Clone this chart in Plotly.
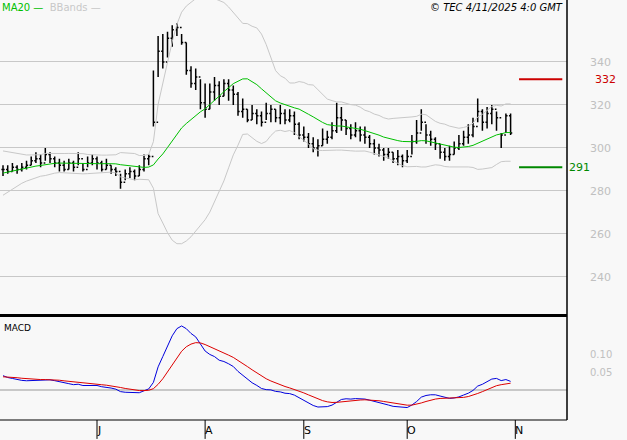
import numpy as np
import pandas as pd
import plotly.graph_objects as go

pre_closes = [279,280,281,282,284,285,286,287,288,288,289,290,291,292,293,294,295,296,296]
closes = [290,289,291,290,291,292,294,295,293,297,295,293,292,290,293,291,295,290,293,295,
          293,290,292,290,289,284,288,289,287,290,295,296,312,345,340,351,355,356,349,336,330,333,321,
          318,326,329,324,330,327,325,317,318,313,316,315,312,316,318,314,316,313,315,311,306,
          305,302,300,301,304,305,308,314,313,309,306,308,306,305,302,300,299,297,298,295,296,294,
          296,303,307,312,306,304,302,298,296,297,300,302,305,306,310,317,312,316,318,314,306,315,307]
highs = [292,292,293,292,293,294,296,298,297,300,298,296,295,294,295,294,298,293,296,297,
         296,294,295,292,291,288,290,291,290,292,297,297,336,352,353,354,357,358,353,349,338,337,332,
         330,330,333,331,332,332,329,326,323,318,320,318,317,321,320,318,320,318,318,317,312,
         310,307,305,304,309,308,312,321,319,313,311,312,310,310,306,304,302,300,300,298,299,297,
         299,306,313,318,311,308,305,302,300,301,303,306,308,311,314,323,318,319,320,317,307,316,316]
lows = [287,288,289,288,289,290,292,293,291,294,293,291,289,289,290,289,292,289,291,292,
        290,289,290,288,287,281,285,286,285,287,289,292,310,333,337,342,347,352,348,334,328,327,318,
        314,318,322,320,324,322,320,315,314,312,313,311,310,313,312,312,311,311,312,306,304,
        303,300,298,296,301,302,304,307,308,306,304,305,303,302,300,297,296,294,295,293,292,291,
        293,297,302,308,302,301,299,295,294,294,297,299,301,302,305,312,308,309,311,308,300,307,306]
month_ticks = [20, 43, 64, 86, 109]
month_labels = ["J", "A", "S", "O", "N"]
level_hi, level_lo = 332, 291
macd_peak = 0.18

n = len(closes)
idx = np.arange(n)
opens = [closes[0]] + closes[:-1]
full = pd.Series(pre_closes + closes, dtype=float)
ma = full.rolling(20, min_periods=1).mean().values[-n:]
sd = full.rolling(20, min_periods=1).std(ddof=0).values[-n:]
up, lo = ma + 2 * sd, ma - 2 * sd
ema12 = full.ewm(span=12, adjust=False).mean()
ema26 = full.ewm(span=26, adjust=False).mean()
raw = ema12 - ema26
sig_raw = raw.ewm(span=9, adjust=False).mean()
k = macd_peak / raw.values[-n:].max()
macd, sig = raw.values[-n:] * k, sig_raw.values[-n:] * k

fig = go.Figure()
fig.add_trace(go.Scatter(x=idx, y=up, mode="lines", line=dict(color="#c8c8c8", width=1), xaxis="x", yaxis="y"))
fig.add_trace(go.Scatter(x=idx, y=lo, mode="lines", line=dict(color="#c8c8c8", width=1), xaxis="x", yaxis="y"))
fig.add_trace(go.Scatter(x=idx, y=ma, mode="lines", line=dict(color="#00c000", width=1), xaxis="x", yaxis="y"))
fig.add_trace(go.Ohlc(x=idx, open=opens, high=highs, low=lows, close=closes, tickwidth=0.35,
                      increasing=dict(line=dict(color="black", width=1.5)),
                      decreasing=dict(line=dict(color="black", width=1.5)), xaxis="x", yaxis="y"))
fig.add_trace(go.Scatter(x=idx, y=macd, mode="lines", line=dict(color="#0000dd", width=1), xaxis="x2", yaxis="y2"))
fig.add_trace(go.Scatter(x=idx, y=sig, mode="lines", line=dict(color="#dd0000", width=1), xaxis="x2", yaxis="y2"))

xr = [-0.64, 120]
grid = "#c8c8c8"
fig.update_layout(
    width=627, height=440, margin=dict(l=0, r=60, t=0, b=20),
    paper_bgcolor="#f8f8f8", plot_bgcolor="#f8f8f8", showlegend=False,
    font=dict(family="DejaVu Sans", size=10, color="#c0c0c0"),
    xaxis=dict(range=xr, domain=[0, 1], showticklabels=False, showgrid=False, zeroline=False,
               rangeslider=dict(visible=False), anchor="y"),
    yaxis=dict(range=[222.3, 368.8], domain=[0.25, 1], side="right", tickvals=[240, 260, 280, 300, 320, 340],
               gridcolor=grid, zeroline=False, ticks="", tickfont=dict(color="#c0c0c0", size=11), anchor="x",
               ticklabelstandoff=22),
    xaxis2=dict(range=xr, domain=[0, 1], showticklabels=False, showgrid=False, zeroline=False, anchor="y2"),
    yaxis2=dict(range=[-0.0844, 0.2025], domain=[0, 0.243], side="right", tickvals=[0.05, 0.10],
                ticktext=["0.05", "0.10"], showgrid=False, zeroline=True, zerolinecolor=grid,
                ticks="", tickfont=dict(color="#c0c0c0", size=10), anchor="x2", ticklabelstandoff=22),
)
shapes = [
    dict(type="line", xref="paper", yref="paper", x0=1, x1=1, y0=0, y1=1, line=dict(color="black", width=1.5)),
    dict(type="line", xref="paper", yref="paper", x0=0, x1=1, y0=0.2486, y1=0.2486, line=dict(color="black", width=3)),
    dict(type="line", xref="paper", yref="paper", x0=0, x1=1, y0=0, y1=0, line=dict(color="black", width=1)),
    dict(type="line", xref="x", yref="y", x0=109.8, x1=119, y0=level_hi, y1=level_hi, line=dict(color="#cc0000", width=2)),
    dict(type="line", xref="x", yref="y", x0=109.8, x1=119, y0=level_lo, y1=level_lo, line=dict(color="#008800", width=2)),
]
ann = [
    dict(xref="paper", yref="y", x=1.045, y=level_hi, text=str(level_hi), showarrow=False, xanchor="left",
         font=dict(color="#cc0000", size=11)),
    dict(xref="paper", yref="y", x=1.0, y=level_lo, text=str(level_lo), showarrow=False, xanchor="left",
         font=dict(color="#008800", size=11)),
    dict(xref="paper", yref="paper", x=0, y=1, text="<span style='color:#00c000'>MA20 —</span>  BBands —",
         showarrow=False, xanchor="left", yanchor="top", font=dict(size=10, color="#c8c8c8")),
    dict(xref="paper", yref="paper", x=0.997, y=1, text="<i>© TEC 4/11/2025 4:0 GMT</i>",
         showarrow=False, xanchor="right", yanchor="top", font=dict(size=10, color="black")),
    dict(xref="paper", yref="paper", x=0.003, y=0.235, text="MACD", showarrow=False, xanchor="left",
         yanchor="top", font=dict(size=9, color="black")),
]
for t, lab in zip(month_ticks, month_labels):
    shapes.append(dict(type="line", xref="x", yref="paper", x0=t, x1=t, y0=0, y1=-0.045,
                       line=dict(color="black", width=1)))
    ann.append(dict(xref="x", yref="paper", x=t, y=-0.005, text=lab, showarrow=False, xanchor="left",
                    yanchor="top", xshift=-2, font=dict(size=11, color="black")))
fig.update_layout(shapes=shapes, annotations=ann)
fig.write_html("out.html", config={"displayModeBar": False},
               post_script="document.body.style.margin='0';document.body.style.overflow='hidden';")
